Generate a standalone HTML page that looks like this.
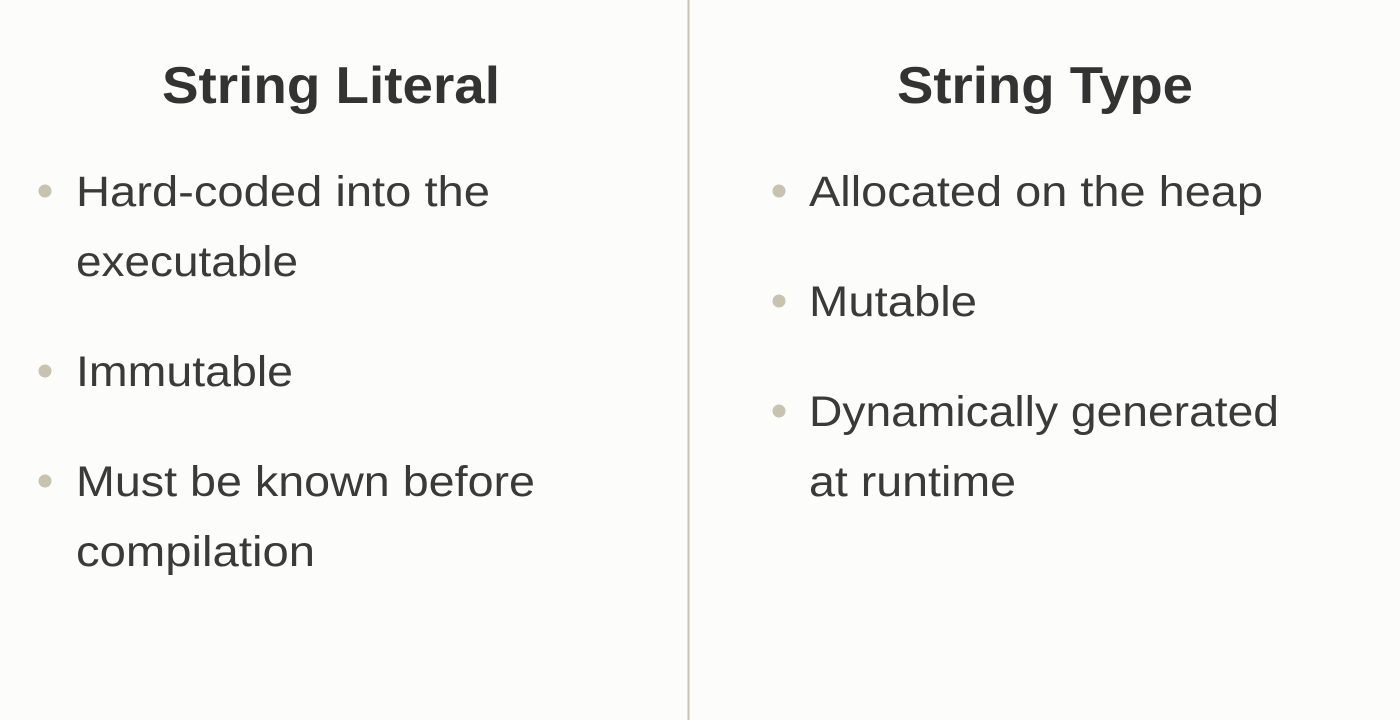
<!DOCTYPE html>
<html><head><meta charset="utf-8"><style>
html,body{margin:0;padding:0;background:#fcfcfb;}
svg{display:block}
text{font-family:"Liberation Sans",sans-serif;fill:#333;}
.t{font-weight:bold;font-size:52px;}
.b{font-size:43px;fill:#3a3a3a;}
</style></head><body>
<svg width="1400" height="720" viewBox="0 0 1400 720">
<rect width="1400" height="720" fill="#fcfcfb"/>
<line x1="688.5" y1="0" x2="688.5" y2="720" stroke="#c9c3b2" stroke-width="2"/>
<text class="t" x="162" y="103" textLength="338" lengthAdjust="spacingAndGlyphs">String Literal</text>
<text class="t" x="897" y="103" textLength="296" lengthAdjust="spacingAndGlyphs">String Type</text>
<g fill="#c8c3ae">
<circle cx="45" cy="191" r="6.5"/><circle cx="45" cy="371" r="6.5"/><circle cx="45" cy="481" r="6.5"/>
<circle cx="779" cy="191" r="6.5"/><circle cx="779" cy="301" r="6.5"/><circle cx="779" cy="411" r="6.5"/>
</g>
<text class="b" x="76" y="206" textLength="414" lengthAdjust="spacingAndGlyphs">Hard-coded into the</text>
<text class="b" x="76" y="276" textLength="222" lengthAdjust="spacingAndGlyphs">executable</text>
<text class="b" x="76" y="386" textLength="217" lengthAdjust="spacingAndGlyphs">Immutable</text>
<text class="b" x="76" y="496" textLength="459" lengthAdjust="spacingAndGlyphs">Must be known before</text>
<text class="b" x="76" y="566" textLength="239" lengthAdjust="spacingAndGlyphs">compilation</text>
<text class="b" x="809" y="206" textLength="454" lengthAdjust="spacingAndGlyphs">Allocated on the heap</text>
<text class="b" x="809" y="316" textLength="168" lengthAdjust="spacingAndGlyphs">Mutable</text>
<text class="b" x="809" y="426" textLength="470" lengthAdjust="spacingAndGlyphs">Dynamically generated</text>
<text class="b" x="809" y="496" textLength="207" lengthAdjust="spacingAndGlyphs">at runtime</text>
</svg>
</body></html>
